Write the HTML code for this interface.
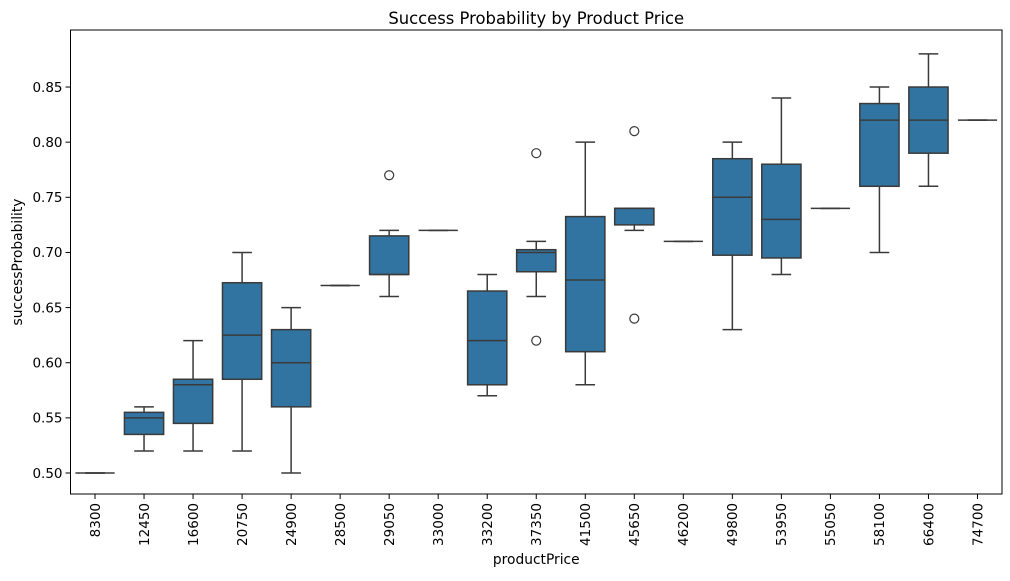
<!DOCTYPE html>
<html><head><meta charset="utf-8"><style>
body{margin:0;background:#fff;font-family:"DejaVu Sans","Liberation Sans",sans-serif}
text{font-family:"DejaVu Sans","Liberation Sans",sans-serif}
</style></head><body>
<svg id="c" width="1010" height="577" xmlns="http://www.w3.org/2000/svg"></svg>
<script>
const categories=["8300","12450","16600","20750","24900","28500","29050","33000","33200","37350","41500","45650","46200","49800","53950","55050","58100","66400","74700"];
const q1s=[0.50,0.535,0.545,0.585,0.56,0.67,0.68,0.72,0.58,0.6825,0.61,0.725,0.71,0.6975,0.695,0.74,0.76,0.79,0.82];
const medians=[0.50,0.55,0.58,0.625,0.60,0.67,0.68,0.72,0.62,0.70,0.675,0.74,0.71,0.75,0.73,0.74,0.82,0.82,0.82];
const q3s=[0.50,0.555,0.585,0.6725,0.63,0.67,0.715,0.72,0.665,0.7025,0.7325,0.74,0.71,0.785,0.78,0.74,0.835,0.85,0.82];
const whisLo=[0.50,0.52,0.52,0.52,0.50,0.67,0.66,0.72,0.57,0.66,0.58,0.72,0.71,0.63,0.68,0.74,0.70,0.76,0.82];
const whisHi=[0.50,0.56,0.62,0.70,0.65,0.67,0.72,0.72,0.68,0.71,0.80,0.74,0.71,0.80,0.84,0.74,0.85,0.88,0.82];
const fliers=[[],[],[],[],[],[],[0.77],[],[],[0.79,0.62],[],[0.81,0.64],[],[],[],[],[],[],[]];
const yTicks=[0.50,0.55,0.60,0.65,0.70,0.75,0.80,0.85];
const L=70.5,R=1002,T=30,B=494;
const step=(R-L)/categories.length;
const xPos=i=>L+step*(i+0.5);
const yPos=v=>473-(v-0.5)/0.05*55.14;
const svg=document.getElementById('c');
const NS='http://www.w3.org/2000/svg';
function mk(tag,attrs,parent){const e=document.createElementNS(NS,tag);for(const k in attrs)e.setAttribute(k,attrs[k]);(parent||svg).appendChild(e);return e;}
const stroke='#3a3a3a';
categories.forEach((c,i)=>{
  const g=mk('g',{});
  
  
  const x=xPos(i),hw=step*0.4,cw=step*0.2;
  mk('line',{x1:x,x2:x,y1:yPos(whisLo[i]),y2:yPos(q1s[i]),stroke:stroke,'stroke-width':1.5},g);
  mk('line',{x1:x,x2:x,y1:yPos(q3s[i]),y2:yPos(whisHi[i]),stroke:stroke,'stroke-width':1.5},g);
  mk('line',{x1:x-cw,x2:x+cw,y1:yPos(whisLo[i]),y2:yPos(whisLo[i]),stroke:stroke,'stroke-width':1.5},g);
  mk('line',{x1:x-cw,x2:x+cw,y1:yPos(whisHi[i]),y2:yPos(whisHi[i]),stroke:stroke,'stroke-width':1.5},g);
  mk('rect',{x:x-hw,y:yPos(q3s[i]),width:hw*2,height:Math.max(0,yPos(q1s[i])-yPos(q3s[i])),fill:'#3274a1',stroke:stroke,'stroke-width':1.5},g);
  mk('line',{x1:x-hw,x2:x+hw,y1:yPos(medians[i]),y2:yPos(medians[i]),stroke:stroke,'stroke-width':1.5},g);
  fliers[i].forEach(f=>{const o=mk('circle',{cx:x,cy:yPos(f),r:4.5,fill:'none',stroke:stroke,'stroke-width':1.2},g);
    
    });
  mk('line',{x1:x,x2:x,y1:B,y2:B+5,stroke:'#000'});
  const t=mk('text',{x:0,y:0,'font-size':13.5,'text-anchor':'end',transform:`translate(${x+4.8},${B+9}) rotate(-90)`});
  t.textContent=c;
  
  
});
yTicks.forEach(v=>{
  const y=yPos(v);
  mk('line',{x1:L-5,x2:L,y1:y,y2:y,stroke:'#000'});
  const t=mk('text',{x:L-8,y:y+4.8,'font-size':13.5,'text-anchor':'end'});
  t.textContent=v.toFixed(2);
  
  
});
const fr=mk('rect',{x:L,y:T,width:R-L,height:B-T,fill:'none',stroke:'#000','stroke-width':1});


const tt=mk('text',{x:(L+R)/2,y:T-6,'font-size':16.4,'text-anchor':'middle'});tt.textContent='Success Probability by Product Price';


const xt=mk('text',{x:(L+R)/2,y:564,'font-size':13.8,'text-anchor':'middle'});xt.textContent='productPrice';


const yt=mk('text',{x:0,y:0,'font-size':13.8,'text-anchor':'middle',transform:`translate(22,${(T+B)/2}) rotate(-90)`});yt.textContent='successProbability';


</script>
</body></html>
